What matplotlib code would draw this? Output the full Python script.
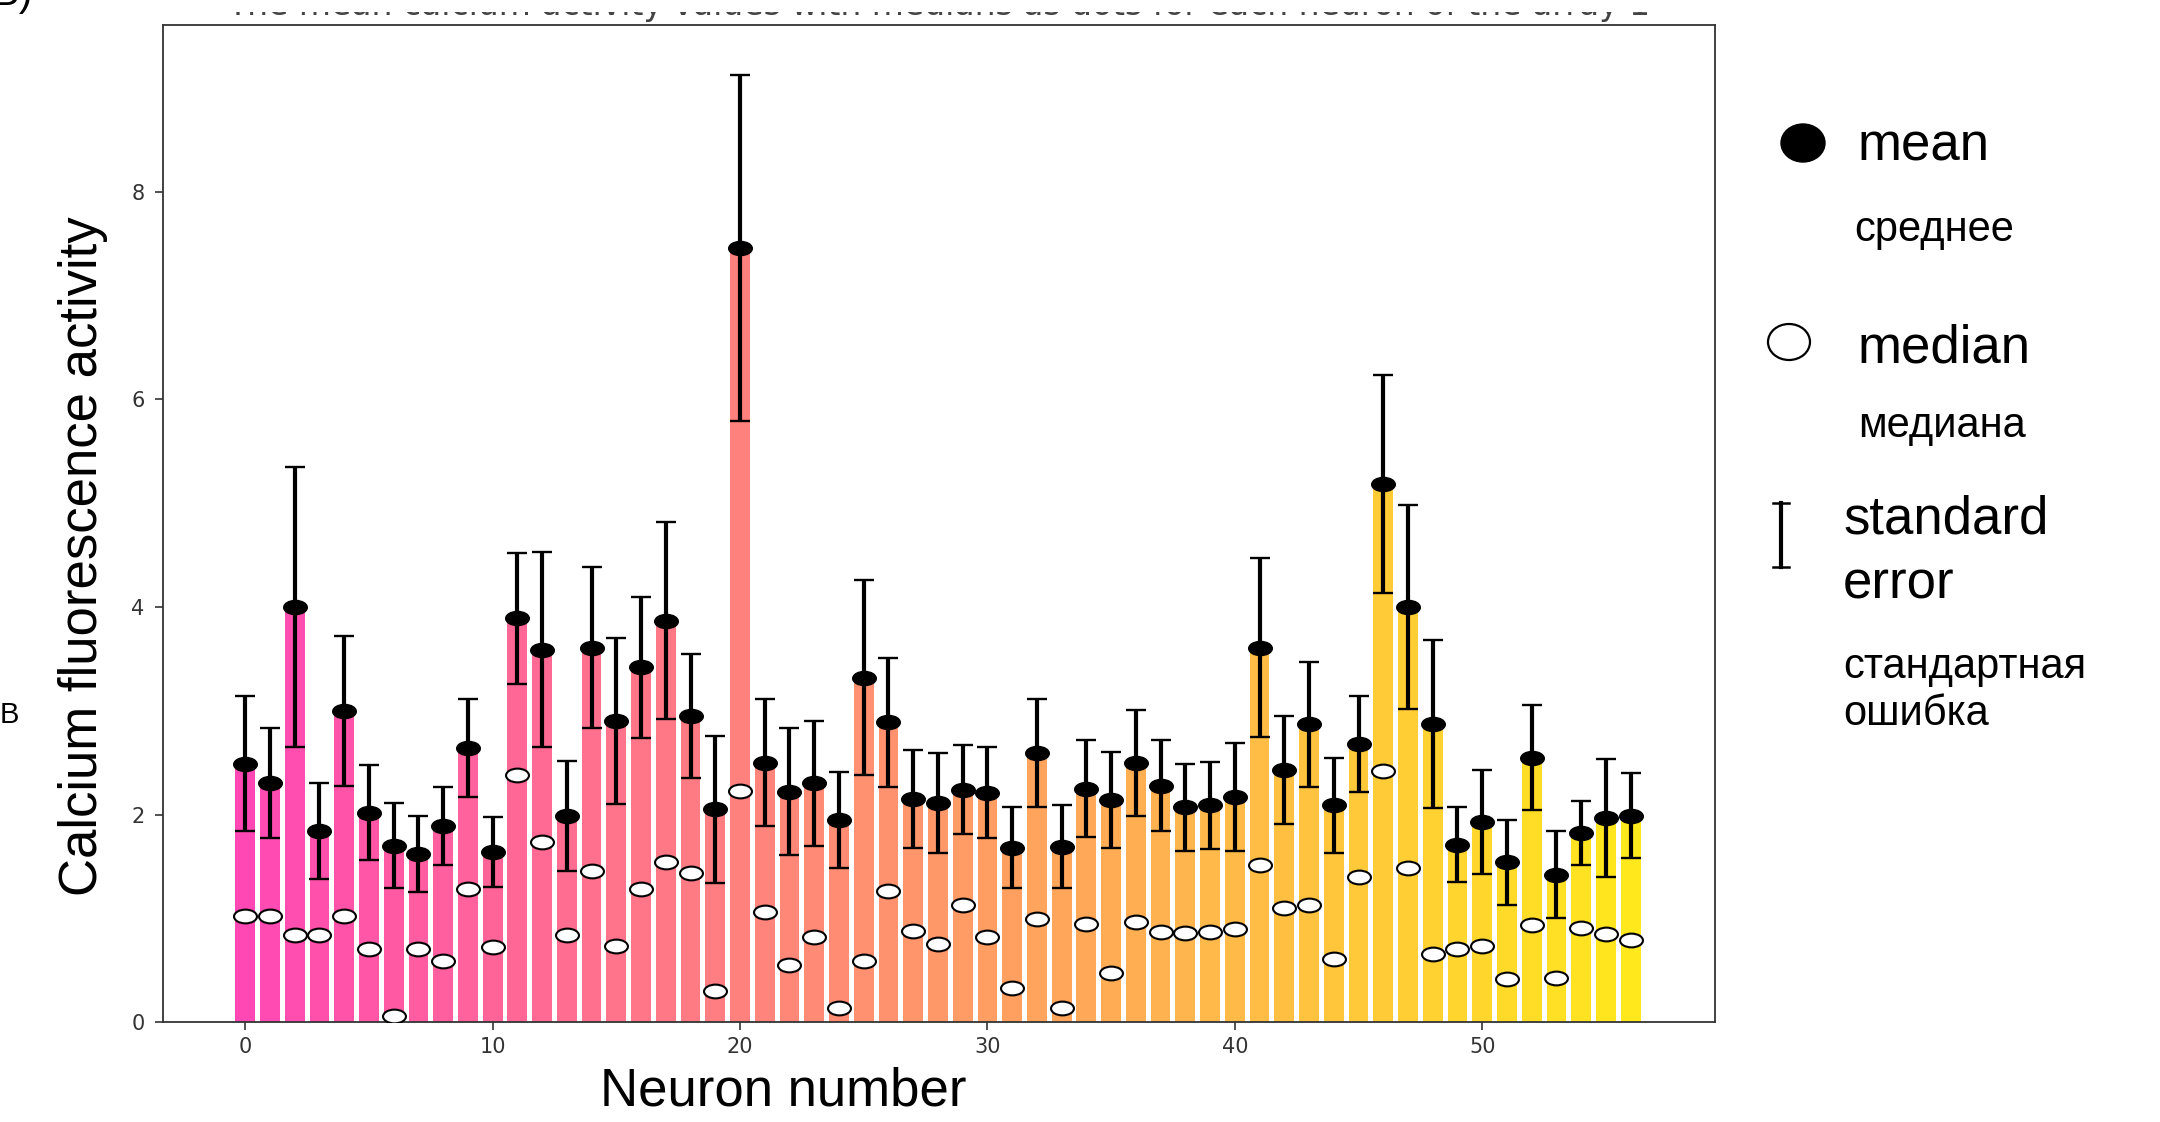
import numpy as np
import matplotlib
matplotlib.use("Agg")
import matplotlib.pyplot as plt
from matplotlib.path import Path
from matplotlib.transforms import Affine2D
from matplotlib.colors import LinearSegmentedColormap
from matplotlib.patches import Ellipse, Rectangle
from matplotlib.lines import Line2D

# ---------------- data ----------------
neurons = list(range(57))
means = [2.49, 2.30, 4.00, 1.84, 3.00, 2.02, 1.70, 1.62, 1.89, 2.64,
         1.64, 3.89, 3.59, 1.99, 3.61, 2.90, 3.42, 3.87, 2.95, 2.05,
         7.46, 2.50, 2.22, 2.30, 1.95, 3.32, 2.89, 2.15, 2.11, 2.24,
         2.21, 1.68, 2.59, 1.69, 2.25, 2.14, 2.50, 2.28, 2.07, 2.09,
         2.17, 3.61, 2.43, 2.87, 2.09, 2.68, 5.19, 4.00, 2.87, 1.71,
         1.93, 1.54, 2.55, 1.42, 1.82, 1.97, 1.99]
medians = [1.02, 1.02, 0.84, 0.84, 1.02, 0.71, 0.06, 0.71, 0.59, 1.28,
           0.72, 2.38, 1.74, 0.84, 1.46, 0.73, 1.28, 1.54, 1.44, 0.30,
           2.23, 1.06, 0.55, 0.82, 0.14, 0.59, 1.26, 0.88, 0.75, 1.13,
           0.82, 0.33, 0.99, 0.14, 0.95, 0.47, 0.97, 0.87, 0.86, 0.87,
           0.90, 1.51, 1.10, 1.13, 0.61, 1.40, 2.42, 1.49, 0.66, 0.71,
           0.73, 0.42, 0.94, 0.43, 0.91, 0.85, 0.79]
sem = [0.65, 0.53, 1.35, 0.46, 0.72, 0.46, 0.41, 0.37, 0.38, 0.47,
       0.34, 0.63, 0.94, 0.53, 0.78, 0.80, 0.68, 0.95, 0.60, 0.71,
       1.67, 0.61, 0.61, 0.60, 0.46, 0.94, 0.62, 0.47, 0.48, 0.43,
       0.44, 0.39, 0.52, 0.40, 0.47, 0.46, 0.51, 0.44, 0.42, 0.42,
       0.52, 0.86, 0.52, 0.60, 0.46, 0.46, 1.05, 0.98, 0.81, 0.36,
       0.50, 0.41, 0.51, 0.42, 0.31, 0.57, 0.41]

xticks = [0, 10, 20, 30, 40, 50]
yticks = [0, 2, 4, 6, 8]
title_text = "The mean calcium activity values with medians as dots for each neuron of the array 1"
xlabel_text = "Neuron number"
ylabel_text = "Calcium fluorescence activity"
legend_en = ["mean", "median", "standard", "error"]
legend_ru = ["среднее", "медиана", "стандартная", "ошибка"]

# ---------------- figure ----------------
W, H = 2160, 1122
fig = plt.figure(figsize=(W / 100, H / 100), dpi=100)
fig.patch.set_facecolor("white")

ax = fig.add_axes([162.6 / W, 1 - 1022.2 / H, (1715 - 162.6) / W, (1022.2 - 24.8) / H])

cmap = LinearSegmentedColormap.from_list("pinkyellow", ["#ff48b4", "#ffe81c"])
colors = cmap(np.linspace(0, 1, len(neurons)))

ax.bar(neurons, means, width=0.8, color=colors, zorder=1)
ax.errorbar(neurons, means, yerr=sem, fmt="none", ecolor="black",
            elinewidth=3.0, capsize=7, capthick=1.7, zorder=2)

ell = Path.unit_circle().transformed(Affine2D().scale(1.0, 0.6))
ax.plot(neurons, means, linestyle="none", marker=ell, markersize=17,
        markerfacecolor="black", markeredgecolor="black", zorder=3)
ax.plot(neurons, medians, linestyle="none", marker=ell, markersize=16.5,
        markerfacecolor="white", markeredgecolor="black", markeredgewidth=1.5, zorder=4)

ax.set_xlim(-3.34, 59.41)
ax.set_ylim(0, 9.61)
ax.set_xticks(xticks)
ax.set_yticks(yticks)
for s in ax.spines.values():
    s.set_color("#333333")
    s.set_linewidth(1.3)
ax.tick_params(axis="both", colors="#333333", labelcolor="#333333", length=6, width=1.2,
               labelsize=15)
ax.tick_params(axis="y", pad=7)
ax.tick_params(axis="x", pad=5)

# axis labels (placed in figure coordinates)
fig.text(97 / W, 1 - 556 / H, ylabel_text, rotation=90, rotation_mode="anchor",
         ha="center", va="baseline", fontsize=38, family="Liberation Sans")
fig.text(783 / W, 1 - 1105 / H, xlabel_text, ha="center", va="baseline",
         fontsize=38, family="Liberation Sans")

# title: only its lower edge is visible in the reference
t = fig.text(0.4346, 1 - 15 / H, title_text, ha="center", va="baseline",
             fontsize=20, color="#444444", family="DejaVu Sans", zorder=1)
fig.canvas.draw()
wt = t.get_window_extent().width
t.set_fontsize(20 * 1426 / wt)

# panel letters
fig.text(-8 / W, 1 - 5 / H, "B)", ha="left", va="baseline", fontsize=30,
         family="Liberation Sans")
fig.text(0, 1 - 723 / H, "B", ha="left", va="baseline", fontsize=21,
         family="Liberation Sans")

# ---------------- custom legend / overlay ----------------
ov = fig.add_axes([0, 0, 1, 1], zorder=10)
ov.set_xlim(0, W)
ov.set_ylim(H, 0)
ov.axis("off")
ov.patch.set_alpha(0)

# white band hiding the upper part of the clipped title (as in the reference crop)
ov.add_patch(Rectangle((150, -2), 1600, 14, facecolor="white", edgecolor="none"))

ov.add_patch(Ellipse((1803, 143), 44, 38, facecolor="black", edgecolor="black"))
ov.add_patch(Ellipse((1789, 342), 42, 36, facecolor="white", edgecolor="black", linewidth=1.6))
ov.add_line(Line2D([1781, 1781], [503, 567], color="black", linewidth=3.0))
ov.add_line(Line2D([1773, 1789], [503, 503], color="black", linewidth=1.8))
ov.add_line(Line2D([1773, 1789], [567, 567], color="black", linewidth=1.8))

lf = dict(family="Liberation Sans", ha="left", va="baseline", color="black")
ov.text(1858, 160, legend_en[0], fontsize=38, **lf)
ov.text(1854, 241, legend_ru[0], fontsize=30, **lf)
ov.text(1858, 362, legend_en[1], fontsize=38, **lf)
ov.text(1858, 437, legend_ru[1], fontsize=30, **lf)
ov.text(1843, 533, legend_en[2], fontsize=38, **lf)
ov.text(1843, 598, legend_en[3], fontsize=38, **lf)
ov.text(1843, 678, legend_ru[2], fontsize=30, **lf)
ov.text(1843, 725, legend_ru[3], fontsize=30, **lf)

fig.savefig("out.png", dpi=100, facecolor="white")
